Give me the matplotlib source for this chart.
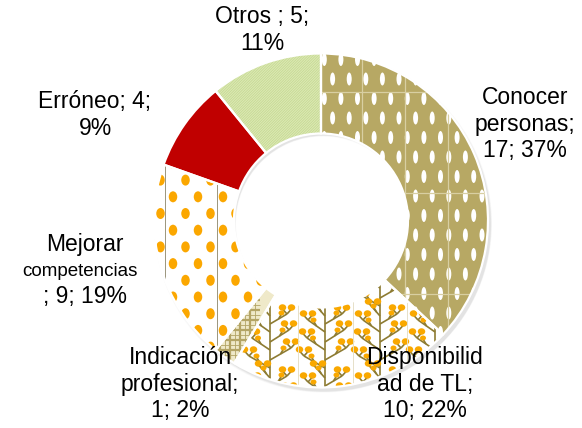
import numpy as np
import matplotlib
matplotlib.use("Agg")
import matplotlib.pyplot as plt
from matplotlib.patches import Ellipse, Wedge
from matplotlib.collections import PatchCollection, LineCollection

# ---------------- data ----------------
categories = ["Conocer personas", "Disponibilidad de TL", "Indicación profesional",
              "Mejorar competencias", "Erróneo", "Otros"]
values = [17, 10, 1, 9, 4, 5]
percent_labels = ["37%", "22%", "2%", "19%", "9%", "11%"]

W, H = 582, 428
def py(y):
    return H - y

fig = plt.figure(figsize=(5.82, 4.28), dpi=100)
ax = fig.add_axes([0, 0, 1, 1])

cx, cy = 321, py(220.5)
R, r = 167, 87

base_colors = ["#b7a864", "#ffffff", "#efe9c9", "#ffffff", "#c00000", "#dce9b6"]

# soft shadow (ring offset down-right)
for k, a in enumerate([0.05, 0.07, 0.10]):
    sh = Wedge((cx + 2 + k * 0.5, cy - 3 - k * 0.5), R + 2 - k, 0, 360,
               width=R - r + 2 - 2 * k, facecolor="#808080", edgecolor="none",
               alpha=a, zorder=0)
    ax.add_patch(sh)

wedges, _ = ax.pie(values, startangle=90, counterclock=False, center=(cx, cy),
                   radius=R, colors=base_colors,
                   wedgeprops=dict(width=R - r, edgecolor="none", linewidth=0))
for w in wedges:
    w.set_zorder(1)

def clip(artist, wedge):
    artist.set_clip_path(wedge)
    artist.set_zorder(2)
    ax.add_artist(artist)

# ---- texture 0 : olive with white ovals (staggered)
w0 = wedges[0]
ovals = []
for j, y in enumerate(np.arange(40, 400, 19.5)):
    off = 8.3 if j % 2 else 0
    for x in np.arange(150, 500, 16.6):
        ovals.append(Ellipse((x + off, py(y)), 5, 13))
pc = PatchCollection(ovals, facecolor="white", edgecolor="none")
clip(pc, w0)
seams = [[(x, py(40)), (x, py(400))] for x in (362, 405, 448)]
seams += [[(300, py(y)), (500, py(y))] for y in (92, 193, 294)]
lc = LineCollection(seams, colors="#d8cfa2", linewidths=0.9)
clip(lc, w0)

# ---- texture 1 : branches with orange berries
w1 = wedges[1]
stem_c = "#8d7b32"
berry_c = "#f9a800"
segs, berries = [], []
tw, th = 55, 62
motif_br = [((27, 56), (6, 44)), ((27, 48), (48, 36)), ((27, 38), (9, 26)),
            ((27, 30), (46, 18)), ((27, 20), (10, 8)), ((27, 12), (44, 2)),
            ((27, 4), (20, -4))]
for x0 in np.arange(188, 470, tw):
    for y0 in np.arange(250, 420, th):
        segs.append([(x0 + 27, py(y0 + th)), (x0 + 27, py(y0))])
        for (sx, sy), (ex, ey) in motif_br:
            segs.append([(x0 + sx, py(y0 + sy)), (x0 + ex, py(y0 + ey))])
            for dx in (-4.5, 4.5):
                segs.append([(x0 + ex, py(y0 + ey)), (x0 + ex + dx, py(y0 + ey - 5))])
                berries.append(Ellipse((x0 + ex + dx, py(y0 + ey - 6.5)), 7.5, 6.5))
            mx, my = (sx + ex) / 2, (sy + ey) / 2
            sgn = 1 if ex > sx else -1
            segs.append([(x0 + mx, py(y0 + my)), (x0 + mx + 3 * sgn, py(y0 + my - 5))])
            berries.append(Ellipse((x0 + mx + 3 * sgn, py(y0 + my - 6)), 6, 5))
lc = LineCollection(segs, colors=stem_c, linewidths=1.2)
clip(lc, w1)
pc = PatchCollection(berries, facecolor=berry_c, edgecolor="none")
clip(pc, w1)
lc = LineCollection([[(x, py(260)), (x, py(400))] for x in (298, 353, 407)],
                    colors="#e6e0c8", linewidths=0.7)
clip(lc, w1)

# ---- texture 2 : plaid
w2 = wedges[2]
pl, lws = [], []
for i, x in enumerate(np.arange(190, 260, 5)):
    pl.append([(x, py(270)), (x, py(360))])
    lws.append(1.6 if i % 2 == 0 else 0.6)
for i, y in enumerate(np.arange(270, 360, 5)):
    pl.append([(190, py(y)), (260, py(y))])
    lws.append(1.6 if i % 2 == 0 else 0.6)
lc = LineCollection(pl, colors="#b3a465", linewidths=lws)
clip(lc, w2)

# ---- texture 3 : orange dots (staggered rows)
w3 = wedges[3]
dots = []
for j, y in enumerate(np.arange(130, 360, 16.7)):
    off = 12.5 if j % 2 else 0
    for x in np.arange(148, 270, 25):
        dots.append(Ellipse((x + off, py(y)), 8.5, 11))
pc = PatchCollection(dots, facecolor="#fba700", edgecolor="none")
clip(pc, w3)
lc = LineCollection([[(x, py(140)), (x, py(360))] for x in (165, 217)],
                    colors="#8c8468", linewidths=0.6)
clip(lc, w3)

# ---- texture 5 : fine green diagonal hatch
w5 = wedges[5]
dl = []
for c in np.arange(-300, 500, 2.6):
    dl.append([(c + 150, py(160)), (c + 290, py(20))])
lc = LineCollection(dl, colors="#c6da92", linewidths=0.6)
clip(lc, w5)

# white separators on top
for w in wedges:
    ov = Wedge(w.center, w.r, w.theta1, w.theta2, width=w.width,
               facecolor="none", edgecolor="white", linewidth=1.6, zorder=3)
    ax.add_patch(ov)

# ---------------- labels ----------------
font = "Liberation Sans"
fs = 16.5
lab_kw = dict(ha="center", va="center", fontsize=fs, family=font, linespacing=1.2, zorder=5)
ax.text(262, py(30), f"Otros ; {values[5]};\n{percent_labels[5]}", **lab_kw)
ax.text(525, py(124), f"Conocer\npersonas;\n{values[0]}; {percent_labels[0]}", **lab_kw)
ax.text(95, py(115), f"Erróneo; {values[4]};\n{percent_labels[4]}", **lab_kw)
ax.text(85, py(245), "Mejorar", **lab_kw)
ax.text(80, py(271), "competencias", ha="center", va="center", fontsize=13.5,
        family=font, zorder=5)
ax.text(85, py(296), f"; {values[3]}; {percent_labels[3]}", **lab_kw)
ax.text(180, py(384), f"Indicación\nprofesional;\n{values[2]}; {percent_labels[2]}", **lab_kw)
ax.text(425, py(384), f"Disponibilid\nad de TL;\n{values[1]}; {percent_labels[1]}", **lab_kw)

ax.set_xlim(0, W)
ax.set_ylim(0, H)
ax.set_aspect("auto")
ax.axis("off")
fig.savefig("out.png", dpi=100, facecolor="white")
